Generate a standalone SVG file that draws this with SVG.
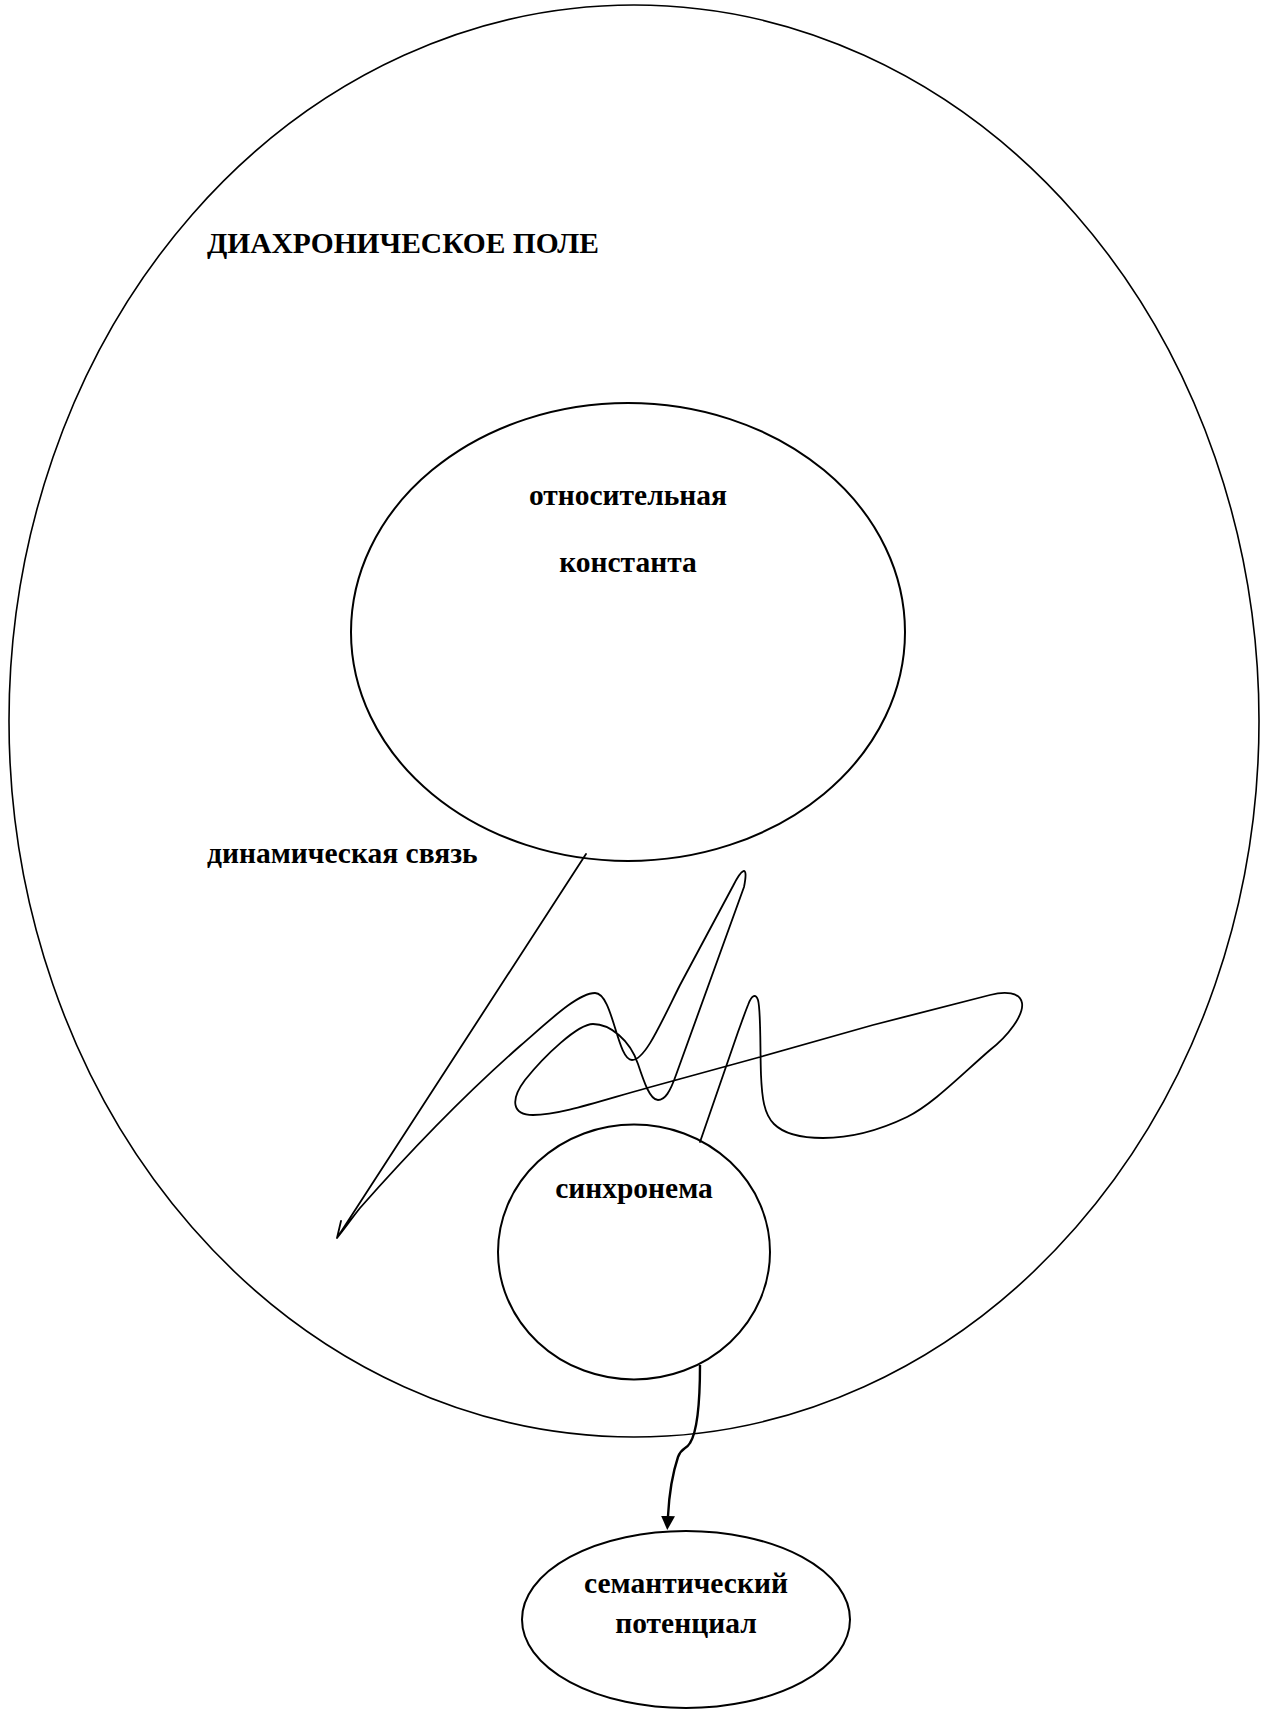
<svg xmlns="http://www.w3.org/2000/svg" width="1269" height="1711" viewBox="0 0 1269 1711">
<style>
.shape{fill:none;stroke:#000;stroke-width:2}
.big{fill:none;stroke:#000;stroke-width:1.6}
.wire{fill:none;stroke:#000;stroke-width:1.8;stroke-linejoin:round;stroke-linecap:round}
.arrow{fill:none;stroke:#000;stroke-width:2.4}
.lbl{font-family:"Liberation Serif","Times New Roman",serif;font-weight:bold;font-size:29.5px;fill:#000}
.mid{text-anchor:middle}
</style>
<defs>
<marker id="ah" viewBox="0 0 14 14" refX="0" refY="7" markerWidth="14" markerHeight="14" markerUnits="userSpaceOnUse" orient="auto">
<path d="M0,0 L14,7 L0,14 z" fill="#000"/>
</marker>
</defs>
<rect width="1269" height="1711" fill="#fff"/>
<g id="diachronic-field">
<ellipse class="big" cx="634" cy="721" rx="625" ry="716"/>
<text class="lbl" x="207" y="253">ДИАХРОНИЧЕСКОЕ ПОЛЕ</text>
</g>
<g id="relative-constant">
<ellipse class="shape" cx="628" cy="632" rx="277" ry="229"/>
<text class="lbl mid" x="628" y="505">относительная</text>
<text class="lbl mid" x="628" y="572">константа</text>
</g>
<g id="dynamic-link-label">
<text class="lbl" x="207" y="863">динамическая связь</text>
</g>
<g id="synchroneme">
<ellipse class="shape" cx="634" cy="1252" rx="136" ry="127.5"/>
<text class="lbl mid" x="634" y="1198">синхронема</text>
</g>
<g id="semantic-potential">
<ellipse class="shape" cx="686" cy="1619.5" rx="164" ry="88.5"/>
<text class="lbl mid" x="686" y="1593">семантический</text>
<text class="lbl mid" x="686" y="1633">потенциал</text>
</g>
<g id="connectors">
<path class="wire" d="M586,854 L337,1238 M337,1238 L341,1221 M337,1238 C345,1228 352,1218 360,1208 C420,1140 470,1090 520,1046 C550,1020 578,993 595,993 C613,993 617,1060 632,1060 C645,1060 660,1025 680,985 L733,886 C741,870 749,862 744,887 L676,1075 C670,1092 665,1100 658,1100 C650,1100 644,1082 638,1064 C630,1040 610,1024 593,1024 C578,1024 545,1055 525,1080 C510,1100 512,1115 533,1115 C560,1115 600,1101 647,1088 L760,1057 L873,1025 L990,995 C1005,991 1020,992 1022,1003 C1024,1015 1008,1036 990,1050 C960,1076 933,1104 907,1117 C880,1130 850,1138 823,1138 C800,1138 783,1133 774,1124 C764,1114 762,1098 761,1075 C760,1050 761,1010 758,1000 C756,994 752,994 748,1005 C744,1015 741,1024 738,1032 L700,1142"/>
<path class="arrow" marker-end="url(#ah)" d="M700,1365 C700,1400 697,1432 690,1443 C686,1450 682,1447 678,1457 C672,1475 669,1497 668,1516"/>
</g>
</svg>
